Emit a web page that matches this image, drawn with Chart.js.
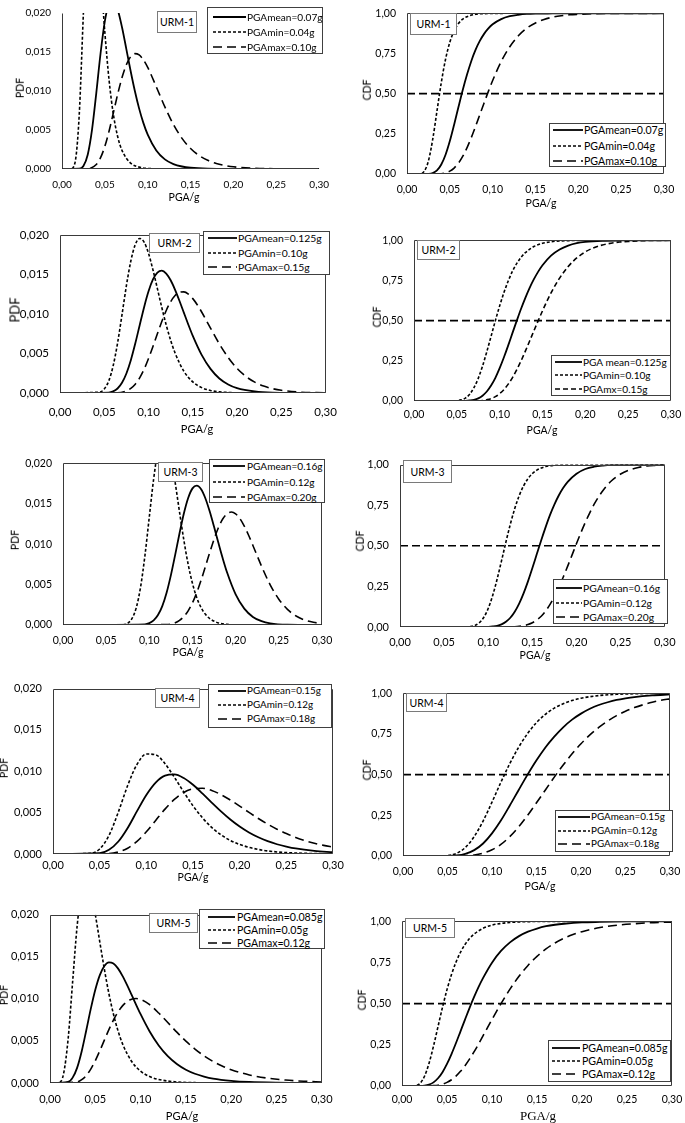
<!DOCTYPE html>
<html>
<head>
<meta charset="utf-8">
<script src="https://cdn.jsdelivr.net/npm/chart.js@4.4.0/dist/chart.umd.min.js"></script>
<style>
  body { margin: 0; background: #fff; width: 685px; height: 1123px; position: relative; overflow: hidden; font-family: Lato, 'Open Sans', sans-serif; color: #000; }
  canvas { position: absolute; }
  .box { position: absolute; background: #fff; box-sizing: border-box; }
  .urm { border: 1.5px solid #7a7a7a; display: flex; align-items: center; justify-content: center; font-size: 10.5px; font-weight: 400; }
  .leg { border: 1px solid #404040; }
  .lt { position: absolute; white-space: nowrap; transform: translateY(-50%); line-height: 1; font-weight: 400; }
  .ttl { position: absolute; white-space: nowrap; line-height: 1; }
  svg { position: absolute; overflow: visible; }
</style>
</head>
<body>
<script>
// ── Tick labels ──────────────────────────────────────────────
const pgaTickLabels = ['0,00', '0,05', '0,10', '0,15', '0,20', '0,25', '0,30'];
const pdfTickLabels = ['0,000', '0,005', '0,010', '0,015', '0,020'];
const cdfTickLabels = ['0,00', '0,25', '0,50', '0,75', '1,00'];

// dashed reference line on the CDF panels
const halfLineX = [0, 0.30];
const halfLineY = [0.5, 0.5];

// ── URM-1 ────────────────────────────────────────────────────
const urm1MeanX = [0, 0.020, 0.025, 0.030, 0.035, 0.040, 0.045, 0.050, 0.055, 0.060, 0.065, 0.070, 0.075, 0.080, 0.085, 0.090, 0.095, 0.100, 0.110, 0.120, 0.130, 0.140, 0.150, 0.170, 0.200, 0.300];
const urm1MeanPdf = [0, 0.00004, 0.00039, 0.00183, 0.00502, 0.00974, 0.01484, 0.01896, 0.02127, 0.02166, 0.02043, 0.01817, 0.01541, 0.01260, 0.01000, 0.00774, 0.00588, 0.00440, 0.00237, 0.00123, 0.00063, 0.00032, 0.00016, 0.00004, 0.00001, 0];
const urm1MeanCdf = [0, 0.0001, 0.001, 0.006, 0.022, 0.059, 0.120, 0.205, 0.307, 0.415, 0.521, 0.617, 0.702, 0.772, 0.828, 0.872, 0.906, 0.932, 0.964, 0.982, 0.991, 0.996, 0.998, 0.999, 1.000, 1.000];
const urm1MinX = [0, 0.010, 0.015, 0.020, 0.025, 0.030, 0.035, 0.040, 0.045, 0.050, 0.055, 0.060, 0.065, 0.070, 0.080, 0.090, 0.100, 0.120, 0.300];
const urm1MinPdf = [0, 0.00002, 0.00073, 0.00675, 0.0201, 0.0325, 0.0366, 0.0328, 0.0252, 0.0175, 0.0113, 0.00695, 0.00413, 0.00239, 0.00076, 0.00024, 0.00007, 0.00001, 0];
const urm1MinCdf = [0, 0, 0.001, 0.016, 0.081, 0.215, 0.392, 0.568, 0.714, 0.820, 0.891, 0.936, 0.963, 0.979, 0.994, 0.998, 0.999, 1.000, 1.000];
const urm1MaxX = [0, 0.030, 0.040, 0.045, 0.050, 0.055, 0.060, 0.065, 0.070, 0.075, 0.080, 0.085, 0.090, 0.095, 0.100, 0.110, 0.120, 0.130, 0.140, 0.150, 0.160, 0.170, 0.180, 0.190, 0.200, 0.220, 0.250, 0.300];
const urm1MaxPdf = [0, 0.00003, 0.00058, 0.00145, 0.00291, 0.00490, 0.00724, 0.00961, 0.01172, 0.01335, 0.01439, 0.01479, 0.01462, 0.01399, 0.01302, 0.01054, 0.00796, 0.00570, 0.00393, 0.00263, 0.00173, 0.00111, 0.00071, 0.00045, 0.00028, 0.00011, 0.00003, 0];
const urm1MaxCdf = [0, 0.0001, 0.002, 0.007, 0.018, 0.037, 0.067, 0.109, 0.163, 0.226, 0.296, 0.369, 0.442, 0.514, 0.582, 0.700, 0.792, 0.860, 0.908, 0.940, 0.962, 0.976, 0.985, 0.991, 0.994, 0.998, 0.999, 1.000];

// ── URM-2 ────────────────────────────────────────────────────
const urm2MeanX = [0, 0.055, 0.060, 0.065, 0.070, 0.075, 0.080, 0.085, 0.090, 0.095, 0.100, 0.105, 0.110, 0.115, 0.120, 0.125, 0.130, 0.135, 0.140, 0.145, 0.150, 0.160, 0.170, 0.180, 0.190, 0.200, 0.220, 0.240, 0.300];
const urm2MeanPdf = [0, 0.00006, 0.00021, 0.00057, 0.00129, 0.00247, 0.00415, 0.00625, 0.00857, 0.01086, 0.01286, 0.01436, 0.01524, 0.01548, 0.01511, 0.01426, 0.01305, 0.01164, 0.01013, 0.00864, 0.00722, 0.00482, 0.00305, 0.00184, 0.00108, 0.00061, 0.00019, 0.00005, 0];
const urm2MeanCdf = [0, 0.0002, 0.001, 0.003, 0.007, 0.016, 0.033, 0.059, 0.096, 0.144, 0.204, 0.272, 0.346, 0.424, 0.500, 0.574, 0.642, 0.704, 0.758, 0.805, 0.845, 0.905, 0.943, 0.967, 0.982, 0.990, 0.997, 0.999, 1.000];
const urm2MinX = [0, 0.045, 0.050, 0.055, 0.060, 0.065, 0.070, 0.075, 0.080, 0.085, 0.090, 0.095, 0.100, 0.105, 0.110, 0.115, 0.120, 0.125, 0.130, 0.140, 0.150, 0.160, 0.170, 0.180, 0.200, 0.300];
const urm2MinPdf = [0, 0.00012, 0.00051, 0.00151, 0.00341, 0.00630, 0.00988, 0.01357, 0.01670, 0.01877, 0.01955, 0.01909, 0.01765, 0.01557, 0.01321, 0.01081, 0.00860, 0.00666, 0.00505, 0.00274, 0.00140, 0.00068, 0.00032, 0.00015, 0.00003, 0];
const urm2MinCdf = [0, 0.0003, 0.002, 0.007, 0.018, 0.042, 0.083, 0.141, 0.217, 0.307, 0.403, 0.500, 0.592, 0.675, 0.747, 0.808, 0.856, 0.894, 0.923, 0.961, 0.981, 0.991, 0.996, 0.998, 1.000, 1.000];
const urm2MaxX = [0, 0.065, 0.075, 0.080, 0.085, 0.090, 0.095, 0.100, 0.105, 0.110, 0.115, 0.120, 0.125, 0.130, 0.135, 0.140, 0.145, 0.150, 0.155, 0.160, 0.170, 0.180, 0.190, 0.200, 0.210, 0.220, 0.230, 0.240, 0.250, 0.270, 0.300];
const urm2MaxPdf = [0, 0.00003, 0.00027, 0.00059, 0.00112, 0.00192, 0.00301, 0.00436, 0.00589, 0.00749, 0.00905, 0.01044, 0.01155, 0.01233, 0.01274, 0.01279, 0.01251, 0.01194, 0.01117, 0.01025, 0.00821, 0.00621, 0.00449, 0.00311, 0.00209, 0.00137, 0.00088, 0.00055, 0.00034, 0.00012, 0.00003];
const urm2MaxCdf = [0, 0.0001, 0.001, 0.003, 0.008, 0.015, 0.027, 0.046, 0.071, 0.105, 0.146, 0.195, 0.250, 0.310, 0.373, 0.437, 0.500, 0.561, 0.619, 0.673, 0.765, 0.837, 0.890, 0.928, 0.954, 0.971, 0.982, 0.989, 0.993, 0.998, 1.000];

// ── URM-3 ────────────────────────────────────────────────────
const urm3MeanX = [0, 0.095, 0.100, 0.105, 0.110, 0.115, 0.120, 0.125, 0.130, 0.135, 0.140, 0.145, 0.150, 0.155, 0.160, 0.165, 0.170, 0.175, 0.180, 0.185, 0.190, 0.200, 0.210, 0.220, 0.230, 0.240, 0.260, 0.300];
const urm3MeanPdf = [0, 0.00008, 0.00023, 0.00057, 0.00123, 0.00234, 0.00399, 0.00617, 0.00871, 0.01135, 0.01379, 0.01571, 0.01690, 0.01725, 0.01679, 0.01565, 0.01403, 0.01214, 0.01016, 0.00825, 0.00652, 0.00379, 0.00202, 0.00100, 0.00047, 0.00021, 0.00004, 0];
const urm3MeanCdf = [0, 0.0003, 0.001, 0.003, 0.007, 0.016, 0.032, 0.057, 0.094, 0.144, 0.207, 0.281, 0.363, 0.449, 0.534, 0.615, 0.690, 0.755, 0.811, 0.857, 0.894, 0.944, 0.973, 0.987, 0.994, 0.998, 1.000, 1.000];
const urm3MinX = [0, 0.070, 0.075, 0.080, 0.085, 0.090, 0.095, 0.100, 0.105, 0.110, 0.115, 0.120, 0.125, 0.130, 0.135, 0.140, 0.145, 0.150, 0.155, 0.160, 0.165, 0.170, 0.180, 0.190, 0.200, 0.300];
const urm3MinPdf = [0, 0.00003, 0.00023, 0.00081, 0.00219, 0.00478, 0.00866, 0.01339, 0.01805, 0.02159, 0.02326, 0.02289, 0.02078, 0.01757, 0.01396, 0.01049, 0.00750, 0.00513, 0.00337, 0.00214, 0.00132, 0.00079, 0.00026, 0.00008, 0.00002, 0];
const urm3MinCdf = [0, 0.0001, 0.001, 0.003, 0.010, 0.027, 0.060, 0.115, 0.194, 0.294, 0.407, 0.523, 0.633, 0.729, 0.808, 0.869, 0.914, 0.945, 0.966, 0.979, 0.988, 0.993, 0.998, 0.999, 1.000, 1.000];
const urm3MaxX = [0, 0.120, 0.130, 0.135, 0.140, 0.145, 0.150, 0.155, 0.160, 0.165, 0.170, 0.175, 0.180, 0.185, 0.190, 0.195, 0.200, 0.205, 0.210, 0.215, 0.220, 0.230, 0.240, 0.250, 0.260, 0.270, 0.280, 0.290, 0.300];
const urm3MaxPdf = [0, 0.00005, 0.00028, 0.00057, 0.00104, 0.00175, 0.00275, 0.00402, 0.00555, 0.00724, 0.00897, 0.01061, 0.01203, 0.01311, 0.01376, 0.01397, 0.01375, 0.01315, 0.01223, 0.01110, 0.00984, 0.00727, 0.00497, 0.00319, 0.00193, 0.00111, 0.00061, 0.00033, 0.00017];
const urm3MaxCdf = [0, 0.0002, 0.002, 0.004, 0.008, 0.015, 0.026, 0.043, 0.066, 0.098, 0.139, 0.188, 0.245, 0.308, 0.375, 0.444, 0.514, 0.581, 0.645, 0.703, 0.756, 0.841, 0.902, 0.942, 0.967, 0.982, 0.991, 0.995, 0.998];

// ── URM-4 ────────────────────────────────────────────────────
const urm4MeanX = [0, 0.050, 0.060, 0.070, 0.080, 0.090, 0.100, 0.110, 0.120, 0.130, 0.140, 0.150, 0.160, 0.170, 0.180, 0.190, 0.200, 0.210, 0.220, 0.230, 0.240, 0.250, 0.260, 0.280, 0.300];
const urm4MeanPdf = [0, 0.00010, 0.00051, 0.00151, 0.00315, 0.00518, 0.00714, 0.00864, 0.00948, 0.00962, 0.00919, 0.00837, 0.00733, 0.00622, 0.00515, 0.00417, 0.00332, 0.00260, 0.00202, 0.00155, 0.00118, 0.00090, 0.00067, 0.00038, 0.00021];
const urm4MeanCdf = [0, 0.0004, 0.003, 0.013, 0.036, 0.077, 0.139, 0.218, 0.310, 0.406, 0.500, 0.588, 0.667, 0.734, 0.791, 0.838, 0.875, 0.905, 0.928, 0.945, 0.959, 0.969, 0.977, 0.987, 0.993];
const urm4MinX = [0, 0.040, 0.050, 0.060, 0.070, 0.080, 0.090, 0.100, 0.110, 0.120, 0.130, 0.140, 0.150, 0.160, 0.170, 0.180, 0.190, 0.200, 0.220, 0.240, 0.260, 0.280, 0.300];
const urm4MinPdf = [0, 0.00008, 0.00061, 0.00225, 0.00507, 0.00828, 0.01083, 0.01209, 0.01200, 0.01092, 0.00929, 0.00751, 0.00583, 0.00439, 0.00322, 0.00232, 0.00164, 0.00115, 0.00055, 0.00025, 0.00012, 0.00005, 0.00002];
const urm4MinCdf = [0, 0.0002, 0.003, 0.016, 0.052, 0.119, 0.215, 0.331, 0.453, 0.568, 0.669, 0.753, 0.820, 0.871, 0.909, 0.936, 0.956, 0.970, 0.986, 0.994, 0.997, 0.999, 0.999];
const urm4MaxX = [0, 0.060, 0.070, 0.080, 0.090, 0.100, 0.110, 0.120, 0.130, 0.140, 0.150, 0.160, 0.170, 0.180, 0.190, 0.200, 0.210, 0.220, 0.230, 0.240, 0.250, 0.260, 0.270, 0.280, 0.290, 0.300];
const urm4MaxPdf = [0, 0.00006, 0.00024, 0.00070, 0.00153, 0.00269, 0.00406, 0.00543, 0.00660, 0.00744, 0.00788, 0.00795, 0.00769, 0.00718, 0.00653, 0.00579, 0.00503, 0.00429, 0.00361, 0.00300, 0.00247, 0.00201, 0.00162, 0.00130, 0.00104, 0.00083];
const urm4MaxCdf = [0, 0.0003, 0.002, 0.006, 0.017, 0.038, 0.071, 0.119, 0.179, 0.250, 0.327, 0.406, 0.485, 0.559, 0.628, 0.690, 0.744, 0.790, 0.830, 0.863, 0.890, 0.912, 0.930, 0.945, 0.957, 0.966];

// ── URM-5 ────────────────────────────────────────────────────
const urm5MeanX = [0, 0.020, 0.025, 0.030, 0.035, 0.040, 0.045, 0.050, 0.055, 0.060, 0.065, 0.070, 0.075, 0.080, 0.085, 0.090, 0.100, 0.110, 0.120, 0.130, 0.140, 0.150, 0.160, 0.170, 0.180, 0.200, 0.220, 0.250, 0.300];
const urm5MeanPdf = [0, 0.00013, 0.00064, 0.00183, 0.00378, 0.00624, 0.00880, 0.01108, 0.01282, 0.01389, 0.01432, 0.01418, 0.01361, 0.01272, 0.01165, 0.01049, 0.00817, 0.00612, 0.00446, 0.00319, 0.00226, 0.00158, 0.00110, 0.00077, 0.00053, 0.00026, 0.00012, 0.00004, 0.00001];
const urm5MeanCdf = [0, 0.0003, 0.002, 0.008, 0.022, 0.047, 0.084, 0.134, 0.194, 0.261, 0.332, 0.403, 0.473, 0.539, 0.600, 0.655, 0.749, 0.820, 0.872, 0.910, 0.937, 0.956, 0.970, 0.979, 0.985, 0.993, 0.996, 0.999, 1.000];
const urm5MinX = [0, 0.010, 0.015, 0.020, 0.025, 0.030, 0.035, 0.040, 0.045, 0.050, 0.055, 0.060, 0.065, 0.070, 0.075, 0.080, 0.090, 0.100, 0.110, 0.120, 0.140, 0.160, 0.200, 0.300];
const urm5MinPdf = [0, 0.00005, 0.00110, 0.00523, 0.01205, 0.01870, 0.02286, 0.02398, 0.02270, 0.02000, 0.01674, 0.01352, 0.01062, 0.00819, 0.00622, 0.00467, 0.00258, 0.00141, 0.00076, 0.00042, 0.00012, 0.00004, 0.00001, 0];
const urm5MinCdf = [0, 0, 0.002, 0.016, 0.059, 0.137, 0.242, 0.360, 0.478, 0.585, 0.677, 0.752, 0.812, 0.859, 0.895, 0.922, 0.957, 0.977, 0.987, 0.993, 0.998, 0.999, 1.000, 1.000];
const urm5MaxX = [0, 0.030, 0.035, 0.040, 0.045, 0.050, 0.055, 0.060, 0.065, 0.070, 0.075, 0.080, 0.085, 0.090, 0.095, 0.100, 0.110, 0.120, 0.130, 0.140, 0.150, 0.160, 0.170, 0.180, 0.190, 0.200, 0.220, 0.240, 0.260, 0.280, 0.300];
const urm5MaxPdf = [0, 0.00013, 0.00039, 0.00088, 0.00165, 0.00265, 0.00383, 0.00509, 0.00634, 0.00747, 0.00842, 0.00916, 0.00967, 0.00996, 0.01003, 0.00993, 0.00930, 0.00831, 0.00718, 0.00604, 0.00497, 0.00403, 0.00323, 0.00256, 0.00202, 0.00158, 0.00096, 0.00058, 0.00035, 0.00021, 0.00012];
const urm5MaxCdf = [0, 0.0004, 0.002, 0.005, 0.011, 0.022, 0.038, 0.060, 0.089, 0.123, 0.163, 0.207, 0.254, 0.304, 0.354, 0.404, 0.500, 0.588, 0.666, 0.732, 0.787, 0.832, 0.868, 0.897, 0.920, 0.937, 0.962, 0.977, 0.986, 0.992, 0.995];

// ── Legend texts ─────────────────────────────────────────────
const urm1Labels = ['PGAmean=0.07g', 'PGAmin=0.04g', 'PGAmax=0.10g'];
const urm2Labels = ['PGAmean=0.125g', 'PGAmin=0.10g', 'PGAmax=0.15g'];
const urm2CdfLabels = ['PGA mean=0.125g', 'PGAmin=0.10g', 'PGAmx=0.15g'];
const urm3Labels = ['PGAmean=0.16g', 'PGAmin=0.12g', 'PGAmax=0.20g'];
const urm4Labels = ['PGAmean=0.15g', 'PGAmin=0.12g', 'PGAmax=0.18g'];
const urm5Labels = ['PGAmean=0.085g', 'PGAmin=0.05g', 'PGAmax=0.12g'];

// ── Styles ───────────────────────────────────────────────────
const DASH_MEAN = [];
const DASH_MIN = [3, 2];
const DASH_MAX = [9, 5];
const DASH_MID = [5, 3];

// ── Panels: plot rect [left, top, right, bottom] in page px ──
const PANELS = [
  { kind: 'pdf', name: 'URM-1', rect: [62, 6, 323, 169], full: false, fs: 10, xOff: 16, lf: 10.1,
    series: [[urm1MeanX, urm1MeanPdf], [urm1MinX, urm1MinPdf], [urm1MaxX, urm1MaxPdf]], labels: urm1Labels,
    urm: [157, 11, 197, 33], legend: { box: [207, 7, 323, 54], rows: [17, 32, 47], sx: [213, 246], tx: 247 },
    yTitle: [20, 88, 10.5], xTitle: [184, 197, 10.5] },
  { kind: 'cdf', name: 'URM-1', rect: [407, 6, 668, 174], full: true, fs: 10.5, xOff: 16, lf: 10.6,
    series: [[urm1MeanX, urm1MeanCdf], [urm1MinX, urm1MinCdf], [urm1MaxX, urm1MaxCdf]], labels: urm1Labels,
    urm: [410, 13, 457, 35], legend: { box: [549, 123, 666, 167], rows: [130, 146, 161], sx: [553, 583], tx: 584 },
    yTitle: [367, 90, 10.5], xTitle: [541, 203, 10.5] },
  { kind: 'pdf', name: 'URM-2', rect: [60, 227, 333, 393], full: true, fs: 11.5, xOff: 19, lf: 10.4,
    series: [[urm2MeanX, urm2MeanPdf], [urm2MinX, urm2MinPdf], [urm2MaxX, urm2MaxPdf]], labels: urm2Labels,
    urm: [149, 233, 200, 253], legend: { box: [203, 231, 330, 275], rows: [238, 253, 267], sx: [208, 237], tx: 238 },
    yTitle: [15, 310, 13], xTitle: [197, 428, 11] },
  { kind: 'cdf', name: 'URM-2', rect: [414, 233, 673, 401], full: true, fs: 10.5, xOff: 14, lf: 10.1, maxDash: DASH_MID,
    series: [[urm2MeanX, urm2MeanCdf], [urm2MinX, urm2MinCdf], [urm2MaxX, urm2MaxCdf]], labels: urm2CdfLabels,
    urm: [417, 240, 460, 260], legend: { box: [551, 355, 671, 396], rows: [362, 375, 389], sx: [555, 582], tx: 583 },
    yTitle: [377, 317, 10.5], xTitle: [542, 430, 10.5] },
  { kind: 'pdf', name: 'URM-3', rect: [63, 456, 326, 625], full: true, fs: 10.5, xOff: 16, lf: 10.1,
    series: [[urm3MeanX, urm3MeanPdf], [urm3MinX, urm3MinPdf], [urm3MaxX, urm3MaxPdf]], labels: urm3Labels,
    urm: [158, 462, 203, 482], legend: { box: [209, 459, 325, 503], rows: [466, 482, 497], sx: [213, 245], tx: 247 },
    yTitle: [15, 540, 10.5], xTitle: [188, 652, 10.5] },
  { kind: 'cdf', name: 'URM-3', rect: [400, 457, 668, 627], full: true, fs: 11, xOff: 15, lf: 10.3,
    series: [[urm3MeanX, urm3MeanCdf], [urm3MinX, urm3MinCdf], [urm3MaxX, urm3MaxCdf]], labels: urm3Labels,
    urm: [403, 460, 452, 483], legend: { box: [553, 579, 668, 624], rows: [588, 603, 617], sx: [556, 582], tx: 583 },
    yTitle: [360, 541, 10.5], xTitle: [535, 655, 10.5] },
  { kind: 'pdf', name: 'URM-4', rect: [53, 681, 333, 854], full: true, fs: 11, xOff: 11, lf: 9.9,
    series: [[urm4MeanX, urm4MeanPdf], [urm4MinX, urm4MinPdf], [urm4MaxX, urm4MaxPdf]], labels: urm4Labels,
    urm: [155, 688, 200, 708], legend: { box: [208, 684, 332, 728], rows: [691, 705, 719], sx: [218, 246], tx: 247 },
    yTitle: [4, 768, 10.5], xTitle: [193, 877, 10.5] },
  { kind: 'cdf', name: 'URM-4', rect: [403, 686, 674, 856], full: true, fs: 10.5, xOff: 16, lf: 9.9,
    series: [[urm4MeanX, urm4MeanCdf], [urm4MinX, urm4MinCdf], [urm4MaxX, urm4MaxCdf]], labels: urm4Labels,
    urm: [406, 693, 447, 712], legend: { box: [555, 810, 673, 852], rows: [817, 831, 844], sx: [558, 590], tx: 591 },
    yTitle: [367, 770, 10.5], xTitle: [540, 886, 10.5] },
  { kind: 'pdf', name: 'URM-5', rect: [50, 907, 326, 1083], full: true, fs: 11, xOff: 16, lf: 10.6,
    series: [[urm5MeanX, urm5MeanPdf], [urm5MinX, urm5MinPdf], [urm5MaxX, urm5MaxPdf]], labels: urm5Labels,
    urm: [149, 913, 198, 933], legend: { box: [199, 909, 325, 949], rows: [917, 930, 943], sx: [208, 235], tx: 237 },
    yTitle: [4, 995, 10.5], xTitle: [182, 1115, 11] },
  { kind: 'cdf', name: 'URM-5', rect: [402, 914, 674, 1086], full: true, fs: 10.5, xOff: 14, lf: 10.6,
    series: [[urm5MeanX, urm5MeanCdf], [urm5MinX, urm5MinCdf], [urm5MaxX, urm5MaxCdf]], labels: urm5Labels,
    urm: [405, 918, 455, 938], legend: { box: [548, 1040, 671, 1082], rows: [1048, 1061, 1074], sx: [552, 580], tx: 582 },
    yTitle: [362, 1000, 10.5], xTitle: [538, 1115, 13], serif: true },
];

// ── Frame around plot area ───────────────────────────────────
const framePlugin = {
  id: 'frame',
  afterDatasetsDraw(chart, args, opts) {
    const a = chart.chartArea, ctx = chart.ctx;
    const l = Math.round(a.left) + 0.5, r = Math.round(a.right) - 0.5;
    const t = Math.round(a.top) + 0.5, b = Math.round(a.bottom) - 0.5;
    ctx.save();
    ctx.strokeStyle = '#3a3a3a';
    ctx.lineWidth = 1;
    ctx.beginPath();
    if (opts.full) { ctx.moveTo(l, b); ctx.lineTo(l, t); ctx.lineTo(r, t); ctx.lineTo(r, b); ctx.closePath(); }
    else { ctx.moveTo(l, t); ctx.lineTo(l, b); ctx.lineTo(r, b); }
    ctx.stroke();
    ctx.restore();
  }
};

const pts = (xs, ys) => xs.map((x, i) => ({ x, y: ys[i] }));

function addDiv(cls, x1, y1, x2, y2, text) {
  const d = document.createElement('div');
  d.className = 'box ' + cls;
  Object.assign(d.style, { left: x1 + 'px', top: y1 + 'px', width: (x2 - x1) + 'px', height: (y2 - y1) + 'px' });
  if (text) d.textContent = text;
  document.body.appendChild(d);
}

function addTitle(text, x, y, size, rotate, serif) {
  const d = document.createElement('div');
  d.className = 'ttl';
  d.textContent = text;
  d.style.left = x + 'px';
  d.style.top = y + 'px';
  d.style.fontSize = size + 'px';
  if (serif) d.style.fontFamily = "'Liberation Serif', 'DejaVu Serif', serif";
  d.style.transform = 'translate(-50%,-50%)' + (rotate ? ' rotate(-90deg)' : '');
  document.body.appendChild(d);
}

function addLegend(p, dashes) {
  const g = p.legend;
  addDiv('leg', g.box[0], g.box[1], g.box[2], g.box[3]);
  p.labels.forEach((txt, i) => {
    const y = g.rows[i];
    const ns = 'http://www.w3.org/2000/svg';
    const svg = document.createElementNS(ns, 'svg');
    svg.setAttribute('width', g.sx[1] - g.sx[0]);
    svg.setAttribute('height', 4);
    svg.style.left = g.sx[0] + 'px';
    svg.style.top = (y - 2) + 'px';
    const ln = document.createElementNS(ns, 'line');
    ln.setAttribute('x1', 0); ln.setAttribute('x2', g.sx[1] - g.sx[0]);
    ln.setAttribute('y1', 2); ln.setAttribute('y2', 2);
    ln.setAttribute('stroke', '#000');
    ln.setAttribute('stroke-width', i === 0 ? 1.8 : 1.6);
    if (dashes[i].length) ln.setAttribute('stroke-dasharray', dashes[i].join(' '));
    svg.appendChild(ln);
    document.body.appendChild(svg);
    const s = document.createElement('div');
    s.className = 'lt';
    s.style.left = g.tx + 'px';
    s.style.top = y + 'px';
    s.style.fontSize = p.lf + 'px';
    s.textContent = txt;
    document.body.appendChild(s);
  });
}

function build(p) {
  const [L, T, R, B] = p.rect;
  const yw = 50, padTop = 10, padRight = 16, xh = 34;
  const w = R - L + yw + padRight, h = B - T + padTop + xh;
  const cv = document.createElement('canvas');
  cv.width = w; cv.height = h;
  Object.assign(cv.style, { left: (L - yw) + 'px', top: (T - padTop) + 'px', width: w + 'px', height: h + 'px' });
  document.body.appendChild(cv);

  const isPdf = p.kind === 'pdf';
  const dashes = [DASH_MEAN, DASH_MIN, p.maxDash || DASH_MAX];
  const datasets = p.series.map(([xs, ys], i) => ({
    data: pts(xs, ys),
    borderColor: '#000',
    borderWidth: i === 0 ? 1.8 : 1.6,
    borderDash: dashes[i],
    pointRadius: 0,
    cubicInterpolationMode: 'monotone',
    fill: false,
  }));
  if (!isPdf) {
    datasets.push({ data: pts(halfLineX, halfLineY), borderColor: '#000', borderWidth: 1.6,
      borderDash: [8, 4], pointRadius: 0, fill: false });
  }
  const font = { family: 'Lato', size: p.fs };
  const yLabels = isPdf ? pdfTickLabels : cdfTickLabels;

  new Chart(cv.getContext('2d'), {
    type: 'line',
    data: { datasets },
    options: {
      responsive: false,
      animation: false,
      devicePixelRatio: 1,
      layout: { padding: { left: 0, top: padTop, right: padRight, bottom: 0 } },
      plugins: { legend: { display: false }, tooltip: { enabled: false }, frame: { full: p.full } },
      scales: {
        x: {
          type: 'linear', min: 0, max: 0.30,
          grid: { display: false, drawTicks: false }, border: { display: false },
          ticks: { stepSize: 0.05, autoSkip: false, maxRotation: 0, color: '#000', font,
                   padding: p.xOff - p.fs * 0.6, callback: (v, i) => pgaTickLabels[i] },
          afterFit: s => { s.height = xh; }
        },
        y: {
          min: 0, max: isPdf ? 0.020 : 1,
          grid: { display: false, drawTicks: false }, border: { display: false },
          ticks: { stepSize: isPdf ? 0.005 : 0.25, autoSkip: false, color: '#000', font, padding: 11,
                   callback: (v, i) => yLabels[i] },
          afterFit: s => { s.width = yw; }
        }
      }
    },
    plugins: [framePlugin]
  });

  addDiv('urm', p.urm[0], p.urm[1], p.urm[2], p.urm[3], p.name);
  addLegend(p, dashes);
  addTitle(isPdf ? 'PDF' : 'CDF', p.yTitle[0], p.yTitle[1], p.yTitle[2], true);
  addTitle('PGA/g', p.xTitle[0], p.xTitle[1], p.xTitle[2], false, p.serif);
}

PANELS.forEach(build);
</script>
</body>
</html>
